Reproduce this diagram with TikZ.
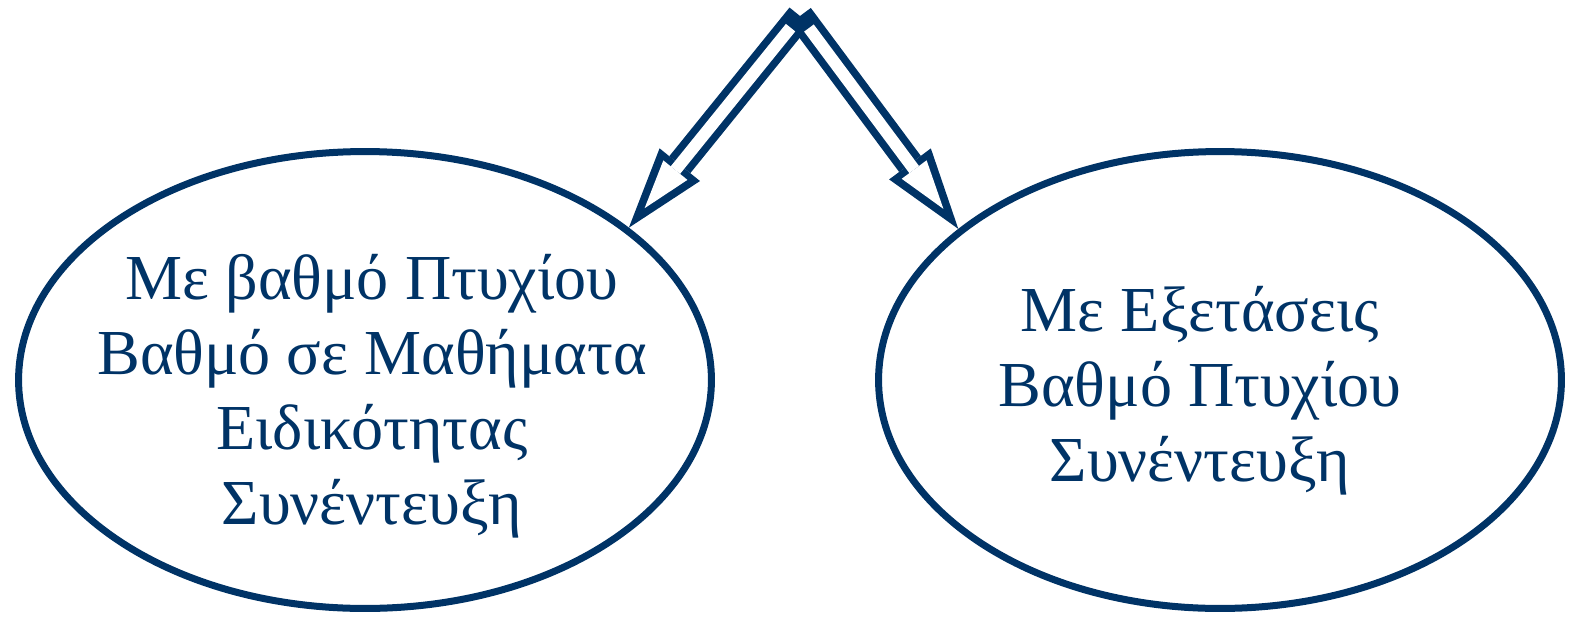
\documentclass[tikz,border=0pt]{standalone}
\usepackage{fontspec}
\setmainfont{Liberation Serif}
\usetikzlibrary{shapes.geometric,arrows.meta}
\definecolor{navy}{RGB}{0,51,102}
\tikzset{
    oval/.style={ellipse, draw=navy, line width=0.14cm, inner sep=0pt},
    txt/.style={text=navy, align=center, font=\fontsize{36.5}{42.7}\selectfont},
    outerarrow/.style={draw=navy, line width=0.54cm,
        -{Triangle[length=1.62cm, width=1.04cm, line width=0pt]}},
    innerarrow/.style={draw=white, line width=0.24cm, shorten <=0.3cm, shorten >=0.5cm,
        -{Triangle[length=0.98cm, width=0.62cm, line width=0pt, color=white]}}
}
\begin{document}
\begin{tikzpicture}[x=0.02cm, y=-0.02cm]
        \useasboundingbox (0,0) rectangle (1579,616);

        \node (L) at (365,380) [oval, minimum width=13.86cm, minimum height=9.14cm] {};
        \node (R) at (1220,380) [oval, minimum width=13.66cm, minimum height=9.14cm] {};

        \node (L-txt) at (372,396) [txt] {Με βαθμό Πτυχίου\\Βαθμό σε Μαθήματα\\Ειδικότητας\\Συνέντευξη};
        \node (R-txt) at (1200,391) [txt] {Με Εξετάσεις\\Βαθμό Πτυχίου\\Συνέντευξη};

        \coordinate (top) at (800,16);

        \draw[outerarrow] (top) -- (L.30);
        \draw[outerarrow] (top) -- (R.150);
        \draw[innerarrow] (top) -- (L.30);
        \draw[innerarrow] (top) -- (R.150);

    \end{tikzpicture}
\end{document}
